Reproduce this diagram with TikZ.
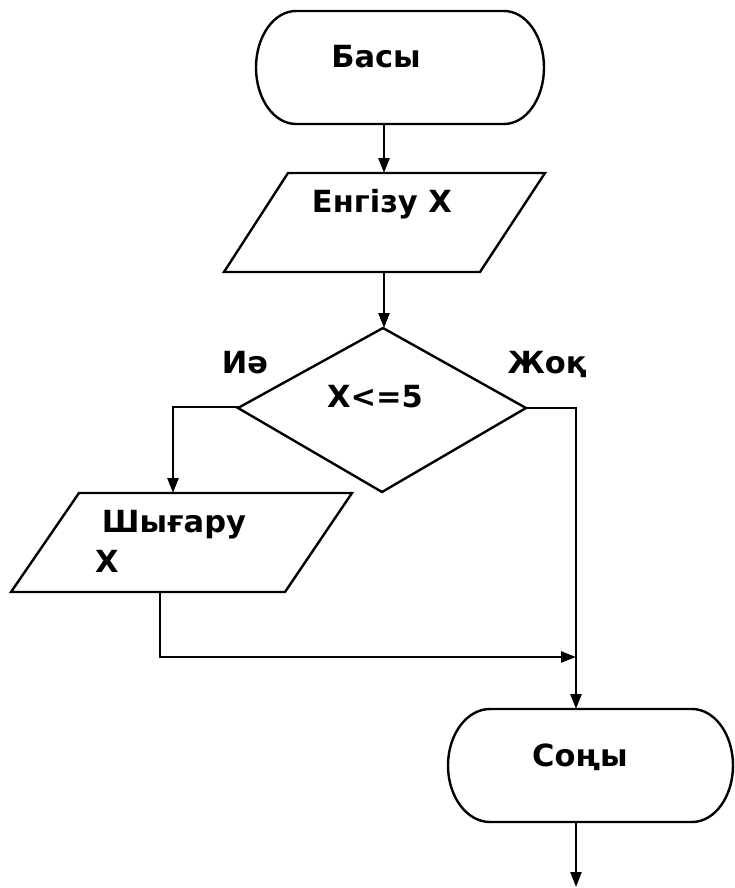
\documentclass[tikz,border=0pt]{standalone}
\usepackage{fontspec}
\setmainfont{DejaVu Sans}
\usetikzlibrary{arrows.meta}
\begin{document}
\begin{tikzpicture}[x=1pt,y=-1pt,
  shapeline/.style={line width=2.4pt, line join=miter},
  conn/.style={line width=2.4pt},
  arr/.style={conn,-{Triangle[length=15pt,width=11pt]}},
  lbl/.style={font=\fontsize{30.5}{36}\selectfont\bfseries, anchor=base, inner sep=0pt}]
\useasboundingbox (0,0) rectangle (734,888);
% start terminal
\draw[shapeline] (296,11) -- (504,11) arc[start angle=-90,end angle=90,x radius=40,y radius=56.5]
  -- (296,124) arc[start angle=90,end angle=270,x radius=40,y radius=56.5] -- cycle;
\coordinate (startB) at (384,124);
\node[lbl] (tstart) at (376,68) {Басы};
% input
\draw[shapeline] (288,173) -- (545,173) -- (480,272) -- (224,272) -- cycle;
\coordinate (inT) at (384,173);
\coordinate (inB) at (384,272);
\node[lbl] (tin) at (382,212) {Енгізу X};
% decision
\draw[shapeline] (383,328) -- (526,408) -- (382,492) -- (238,408) -- cycle;
\coordinate (decT) at (384,328);
\coordinate (decL) at (238,407);
\coordinate (decR) at (526,408);
\node[lbl] (tdec) at (375,407) {X<=5};
\node[lbl] (tyes) at (245,373) {Иә};
\node[lbl] (tno) at (547,373) {Жоқ};
% output
\draw[shapeline] (79,493) -- (352,493) -- (285,592) -- (11,592) -- cycle;
\coordinate (outT) at (173,493);
\coordinate (outB) at (160,592);
\node[lbl] (tout1) at (174,532) {Шығару};
\node[lbl] (tout2) at (107,572) {X};
% end terminal
\draw[shapeline] (490,709) -- (692,709) arc[start angle=-90,end angle=90,x radius=41,y radius=56.5]
  -- (490,822) arc[start angle=90,end angle=270,x radius=42,y radius=56.5] -- cycle;
\coordinate (endT) at (576,709);
\coordinate (endB) at (576,822);
\coordinate (exit) at (576,887);
\node[lbl] (tend) at (580,766) {Соңы};
% connectors
\draw[arr] (startB) -- (inT);
\draw[arr] (inB) -- (decT);
\draw[arr] (decL) -- (decL -| outT) -- (outT);
\draw[arr] (decR) -- (decR -| endT) -- (endT);
\coordinate (join) at (576,657);
\draw[arr] (outB) -- (outB |- join) -- (join);
\draw[arr] (endB) -- (exit);
\end{tikzpicture}
\end{document}
